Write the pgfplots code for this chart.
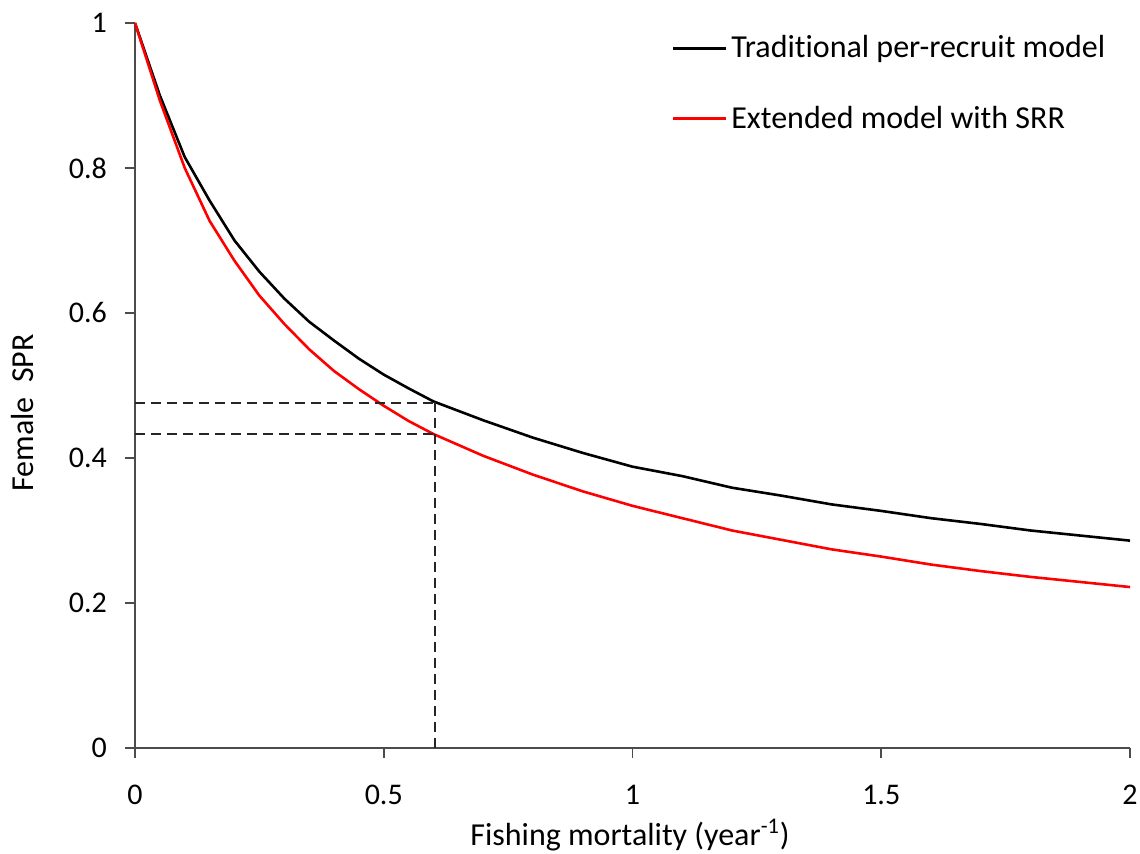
\documentclass[border=0pt]{standalone}
\usepackage{fontspec}
\setmainfont{Carlito}[Ligatures=NoCommon]
\usepackage{pgfplots}
\pgfplotsset{compat=1.18}

\pgfplotstableread{
F     trad   ext
0.00  1.000  1.000
0.05  0.900  0.893
0.10  0.815  0.800
0.15  0.755  0.727
0.20  0.700  0.672
0.25  0.657  0.624
0.30  0.620  0.585
0.35  0.588  0.550
0.40  0.562  0.520
0.45  0.537  0.495
0.50  0.515  0.472
0.55  0.496  0.451
0.60  0.478  0.433
0.70  0.452  0.403
0.80  0.428  0.377
0.90  0.407  0.354
1.00  0.388  0.334
1.10  0.375  0.317
1.20  0.359  0.300
1.30  0.348  0.287
1.40  0.336  0.274
1.50  0.327  0.264
1.60  0.317  0.253
1.70  0.309  0.244
1.80  0.300  0.236
1.90  0.293  0.229
2.00  0.286  0.222
}\spr

\begin{document}
\begin{tikzpicture}
\begin{axis}[
  scale only axis,
  width=497.5pt, height=362.5pt,
  xmin=0, xmax=2, ymin=0, ymax=1,
  axis lines*=left,
  axis line style={black!70, line width=0.8pt},
  xtick={0,0.5,1,1.5,2},
  ytick={0,0.2,0.4,0.6,0.8,1},
  tick align=outside,
  major tick length=5pt,
  tick style={black!70, line width=0.8pt},
  every tick label/.append style={font=\fontsize{15}{18}\selectfont},
  /pgf/number format/assume math mode=true,
  xticklabel style={yshift=-10pt},
  yticklabel style={xshift=-5.5pt},
  xlabel={Fishing mortality (year\textsuperscript{-1})},
  ylabel={Female\ \ SPR},
  label style={font=\fontsize{16}{19}\selectfont},
  xlabel style={at={(axis description cs:0.4975,-0.135)}, anchor=base},
  ylabel style={at={(axis description cs:-0.1126,0.462)}, anchor=center},
  clip=false,
  legend cell align=left,
  legend style={draw=none, fill=none, at={(0.533,0.994)}, anchor=north west,
    font=\fontsize{16}{19}\selectfont, row sep=18.5pt,
    /tikz/every even column/.append style={column sep=3.5pt}},
  legend image code/.code={\draw[#1] (0pt,0pt) -- (26.5pt,0pt);},
]
\addplot[black, line width=1.3pt] table[x=F, y=trad] {\spr};
\addplot[red, line width=1.3pt] table[x=F, y=ext] {\spr};
\addplot[black!85, line width=1pt, dash pattern=on 5pt off 3pt, forget plot] coordinates {(0,0.476) (0.6,0.476)};
\addplot[black!85, line width=1pt, dash pattern=on 5pt off 3pt, forget plot] coordinates {(0,0.433) (0.6,0.433)};
\addplot[black!85, line width=1pt, dash pattern=on 5pt off 3pt, forget plot] coordinates {(0.603,0) (0.603,0.478)};
\legend{Traditional per-recruit model, Extended model with SRR}
\end{axis}
\pgfresetboundingbox
\useasboundingbox ([shift={(-67.5pt,-53pt)}]current axis.south west) rectangle ([shift={(5pt,11.5pt)}]current axis.north east);
\end{tikzpicture}
\end{document}
